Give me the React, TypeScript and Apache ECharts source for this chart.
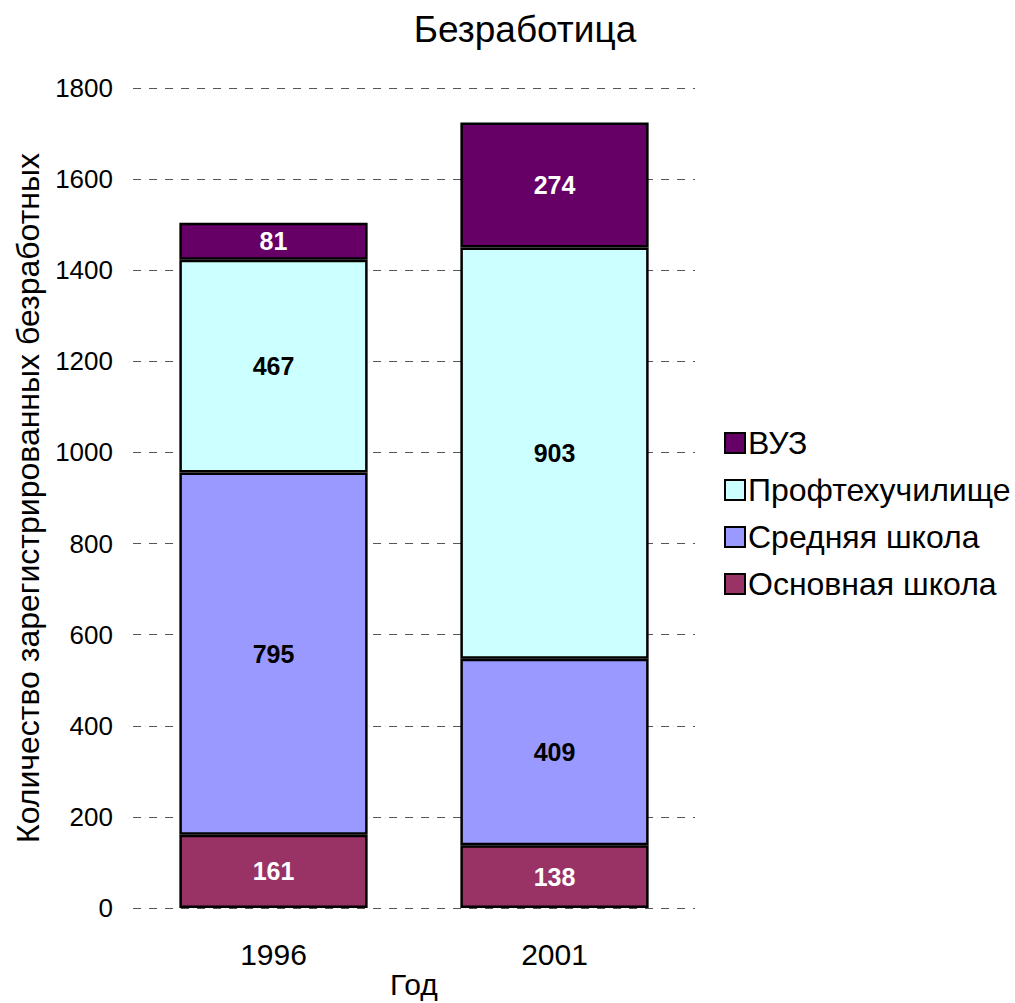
import React, { useEffect, useRef } from "react";
import * as echarts from "echarts";

const categories = ["1996", "2001"];
const basicSchool = [161, 138];
const secondarySchool = [795, 409];
const vocational = [467, 903];
const university = [81, 274];
const yTicks = [0, 200, 400, 600, 800, 1000, 1200, 1400, 1600, 1800];

const FONT = "Liberation Sans, Arial, sans-serif";

export default function App() {
  const ref = useRef<HTMLDivElement>(null);
  useEffect(() => {
    document.body.style.margin = "0";
    const chart = echarts.init(ref.current!, null, { renderer: "svg" });
    const mk = (name: string, data: number[], color: string, labelColor: string) => ({
      name,
      type: "bar",
      stack: "total",
      data,
      barWidth: "67%",
      itemStyle: { color, borderColor: "#000", borderWidth: 2.5 },
      label: {
        show: true,
        position: "inside",
        color: labelColor,
        fontWeight: "bold",
        fontSize: 25,
        fontFamily: FONT,
      },
    });
    chart.setOption({
      animation: false,
      backgroundColor: "#fff",
      textStyle: { fontFamily: FONT },
      title: {
        text: "Безработица",
        left: 520,
        top: 6,
        textAlign: "center",
        textStyle: { fontSize: 37, fontWeight: "normal", color: "#000", fontFamily: FONT },
      },
      legend: {
        orient: "vertical",
        left: 719,
        top: 422,
        icon: "rect",
        itemWidth: 20,
        itemHeight: 20,
        itemGap: 15,
        data: ["ВУЗ", "Профтехучилище", "Средняя школа", "Основная школа"],
        textStyle: { fontSize: 32, color: "#000", fontFamily: FONT, padding: [0, 0, 0, -2] },
        itemStyle: { borderColor: "#000", borderWidth: 2 },
      },
      grid: { left: 133, right: 320, top: 88, bottom: 95, containLabel: false, outerBoundsMode: "none" },
      xAxis: {
        type: "category",
        data: categories,
        name: "Год",
        nameLocation: "middle",
        nameGap: 61,
        nameMoveOverlap: false,
        nameTextStyle: { fontSize: 30, color: "#000", fontFamily: FONT },
        axisLine: { show: false },
        axisTick: { show: false },
        axisLabel: { fontSize: 30, color: "#000", margin: 31, fontFamily: FONT },
      },
      yAxis: {
        type: "value",
        min: yTicks[0],
        max: yTicks[yTicks.length - 1],
        interval: 200,
        name: "Количество зарегистрированных безработных",
        nameLocation: "middle",
        nameGap: 89,
        nameMoveOverlap: false,
        nameTextStyle: { fontSize: 32, color: "#000", fontFamily: FONT },
        axisLine: { show: false },
        axisTick: { show: false },
        axisLabel: {
          fontSize: 26,
          color: "#000",
          margin: 20,
          fontFamily: FONT,
          formatter: (v: number) => String(v),
        },
        splitLine: { lineStyle: { color: "#555", type: [8, 8], width: 1 } },
      },
      series: [
        mk("Основная школа", basicSchool, "#993366", "#fff"),
        mk("Средняя школа", secondarySchool, "#9999FF", "#000"),
        mk("Профтехучилище", vocational, "#CCFFFF", "#000"),
        mk("ВУЗ", university, "#660066", "#fff"),
      ],
    });
    return () => chart.dispose();
  }, []);
  return <div ref={ref} style={{ width: 1015, height: 1003 }} />;
}
